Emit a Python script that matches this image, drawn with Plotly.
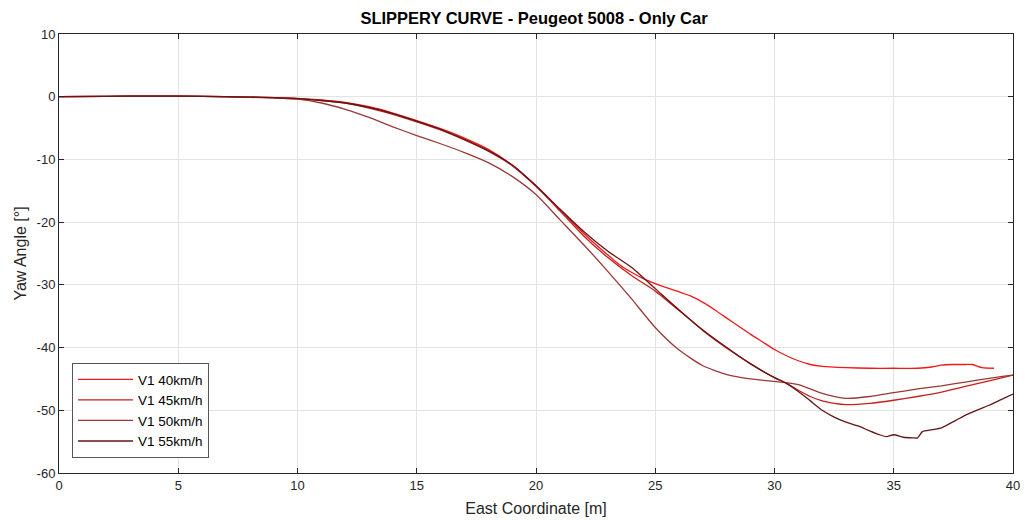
import plotly.graph_objects as go

# ---- data ----
x40 = [0, 2, 4, 6, 8, 10, 11, 12, 13, 14, 15, 16, 17, 18, 19, 20, 21, 22, 23, 23.5, 24, 24.5, 25, 25.5,
       26, 26.5, 27, 27.5, 28, 28.5, 29, 29.5, 30, 30.5, 31, 31.5, 32, 33, 34, 35, 36, 36.6, 37, 37.5,
       38, 38.3, 38.7, 39.2]
y40 = [0, 0.05, 0.1, 0.05, -0.05, -0.25, -0.5, -0.9, -1.6, -2.6, -3.8, -5.1, -6.6, -8.4, -10.9, -14.2,
       -18.0, -21.8, -25.2, -26.8, -28.0, -29.0, -29.8, -30.5, -31.1, -31.8, -32.8, -34.0, -35.3, -36.6,
       -37.9, -39.1, -40.3, -41.3, -42.1, -42.7, -43.0, -43.2, -43.3, -43.3, -43.3, -43.1, -42.8, -42.7,
       -42.7, -42.7, -43.2, -43.3]

x45 = [0, 2, 4, 6, 8, 10, 11, 12, 13, 14, 15, 16, 17, 18, 19, 20, 21, 22, 23, 24, 25, 26, 27, 28, 29,
       30, 30.5, 31, 31.5, 32, 32.5, 33, 34, 35, 36, 37, 38, 39, 40]
y45 = [0, 0.05, 0.1, 0.05, -0.05, -0.3, -0.6, -1.0, -1.8, -2.8, -4.0, -5.3, -6.9, -8.7, -11.0, -14.3,
       -18.2, -22.2, -25.6, -28.5, -31.0, -34.1, -37.3, -40.1, -42.6, -44.8, -45.7, -46.8, -47.8, -48.5,
       -48.9, -49.1, -48.9, -48.4, -47.8, -47.1, -46.2, -45.3, -44.4]

x50 = [0, 2, 4, 6, 8, 9, 10, 11, 12, 13, 14, 15, 16, 17, 18, 19, 20, 21, 22, 23, 24, 25, 26, 27, 28,
       29, 30, 31, 32, 33, 34, 35, 36, 37, 38, 39, 40]
y50 = [0, 0.05, 0.1, 0.05, -0.1, -0.2, -0.4, -1.0, -2.0, -3.3, -4.8, -6.2, -7.5, -8.9, -10.5, -12.7,
       -15.6, -19.6, -23.6, -27.8, -32.2, -36.8, -40.4, -42.9, -44.3, -45.0, -45.4, -45.9, -47.3, -48.1,
       -47.8, -47.2, -46.6, -46.1, -45.5, -44.9, -44.4]

x55 = [0, 2, 4, 6, 8, 10, 11, 12, 13, 14, 15, 16, 17, 18, 19, 20, 21, 22, 23, 24, 25, 26, 27, 28, 29,
       30, 30.5, 31, 31.5, 32, 32.5, 33, 33.5, 34, 34.4, 34.7, 35, 35.4, 35.8, 36, 36.2, 36.6, 37, 37.6,
       38.1, 38.6, 39, 39.5, 40]
y55 = [0, 0.05, 0.1, 0.05, -0.05, -0.3, -0.6, -1.0, -1.7, -2.7, -3.9, -5.2, -6.8, -8.6, -10.9, -14.2,
       -17.9, -21.5, -24.6, -27.2, -30.6, -34.0, -37.2, -40.0, -42.6, -44.8, -45.7, -47.0, -48.5, -50.0,
       -51.1, -51.9, -52.5, -53.3, -53.9, -54.2, -53.9, -54.3, -54.4, -54.4, -53.4, -53.1, -52.8, -51.6,
       -50.6, -49.8, -49.2, -48.3, -47.4]

names = ["V1 40km/h", "V1 45km/h", "V1 50km/h", "V1 55km/h"]
colors = ["rgb(240,25,25)", "rgb(200,30,30)", "rgb(155,55,55)", "rgb(100,22,22)"]
xs = [x40, x45, x50, x55]
ys = [y40, y45, y50, y55]

x_ticks = [0, 5, 10, 15, 20, 25, 30, 35, 40]
x_labels = ["0", "5", "10", "15", "20", "25", "30", "35", "40"]
y_ticks = [10, 0, -10, -20, -30, -40, -50, -60]
y_labels = ["10", "0", "-10", "-20", "-30", "-40", "-50", "-60"]

FONT = "Liberation Sans, Arial"
TXT = "#262626"
W, H = 1025, 520

fig = go.Figure()
for xv, yv, n, c in zip(xs, ys, names, colors):
    fig.add_trace(go.Scatter(x=xv, y=yv, mode="lines", name=n,
                             line=dict(color=c, width=1.3, shape="spline", smoothing=0.6)))

axis_common = dict(showline=True, linecolor="#262626", linewidth=1, mirror="ticks",
                   ticks="inside", ticklen=5, tickcolor="#262626",
                   showgrid=True, gridcolor="#e3e3e3", gridwidth=1, zeroline=False,
                   automargin=False, ticklabeloverflow="allow",
                   tickfont=dict(family=FONT, size=13, color=TXT))

fig.update_xaxes(range=[0, 40], tickvals=x_ticks, ticktext=x_labels,
                 title=dict(text="East Coordinate [m]",
                            font=dict(family=FONT, size=16, color=TXT), standoff=11),
                 **axis_common)
fig.update_yaxes(range=[-60, 10], tickvals=y_ticks, ticktext=y_labels,
                 title=dict(text="Yaw Angle [°]",
                            font=dict(family=FONT, size=16, color=TXT), standoff=6),
                 **axis_common)

fig.update_layout(
    width=W, height=H,
    margin=dict(l=59, r=12, t=34, b=47, autoexpand=False),
    paper_bgcolor="white", plot_bgcolor="white",
    title=dict(text="<b>SLIPPERY CURVE - Peugeot 5008 - Only Car</b>", x=534 / W, xanchor="center",
               y=1 - 18 / H, yanchor="middle", yref="container",
               font=dict(family=FONT, size=16.5, color="#000000")),
    legend=dict(x=0.0136, y=0.034, xanchor="left", yanchor="bottom",
                bgcolor="white", bordercolor="#555555", borderwidth=1,
                font=dict(family=FONT, size=13.5, color="#000000"),
                itemwidth=55, tracegroupgap=0),
    showlegend=True,
)

# remove the default page margin so the figure fills the window exactly
fig.write_html("out.html", config={"displayModeBar": False},
               post_script="document.body.style.margin='0';")
